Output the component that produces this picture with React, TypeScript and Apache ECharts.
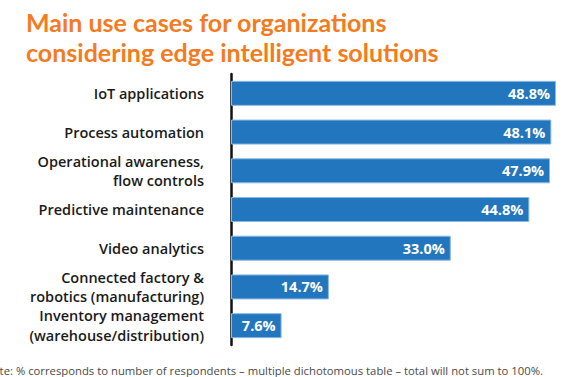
import React, { useEffect, useRef } from "react";
import * as echarts from "echarts";

const categories = [
  "IoT applications",
  "Process automation",
  "Operational awareness,\nflow controls",
  "Predictive maintenance",
  "Video analytics",
  "Connected factory &\nrobotics (manufacturing)",
  "Inventory management\n(warehouse/distribution)",
];
const values = [48.8, 48.1, 47.9, 44.8, 33.0, 14.7, 7.6];
const titleText = "Main use cases for organizations\nconsidering edge intelligent solutions";
const noteText =
  "Note: % corresponds to number of respondents – multiple dichotomous table – total will not sum to 100%.";

export default function App() {
  const ref = useRef<HTMLDivElement>(null);
  useEffect(() => {
    document.body.style.margin = "0";
    const chart = echarts.init(ref.current!, null, { renderer: "svg" });
    chart.setOption({
      animation: false,
      backgroundColor: "#ffffff",
      title: {
        text: titleText,
        left: 21,
        top: 2,
        textStyle: {
          color: "#F47B20",
          fontFamily: "Lato",
          fontWeight: "bold",
          fontSize: 25,
          lineHeight: 30,
        },
      },
      grid: { left: 231, right: 9, top: 74, height: 271, containLabel: false },
      xAxis: {
        type: "value",
        min: 0,
        max: 50,
        show: false,
      },
      yAxis: {
        type: "category",
        data: categories,
        inverse: true,
        axisLine: { show: true, lineStyle: { color: "#111", width: 2.5 } },
        axisTick: { show: false },
        axisLabel: {
          interval: 0,
          hideOverlap: false,
          margin: 27,
          color: "#1a1a1a",
          fontFamily: "Open Sans",
          fontWeight: 600,
          fontSize: 14.5,
          lineHeight: 19.5,
          align: "right",
        },
      },
      series: [
        {
          type: "bar",
          data: values,
          barWidth: 25,
          itemStyle: { color: "#2276BE", borderColor: "#8CB9E3", borderWidth: 1 },
          label: {
            show: true,
            position: "insideRight",
            distance: 6,
            formatter: (p: any) => p.value.toFixed(1) + "%",
            color: "#ffffff",
            fontFamily: "Open Sans",
            fontWeight: "bold",
            fontSize: 14.5,
          },
        },
      ],
      graphic: [
        {
          type: "text",
          x: 543,
          y: 370,
          style: {
            text: noteText,
            fill: "#4a4a4a",
            font: "11.3px 'Open Sans'",
            textAlign: "right",
            textVerticalAlign: "middle",
          },
        },
      ],
    });
    return () => chart.dispose();
  }, []);
  return <div ref={ref} style={{ width: 573, height: 377 }} />;
}
